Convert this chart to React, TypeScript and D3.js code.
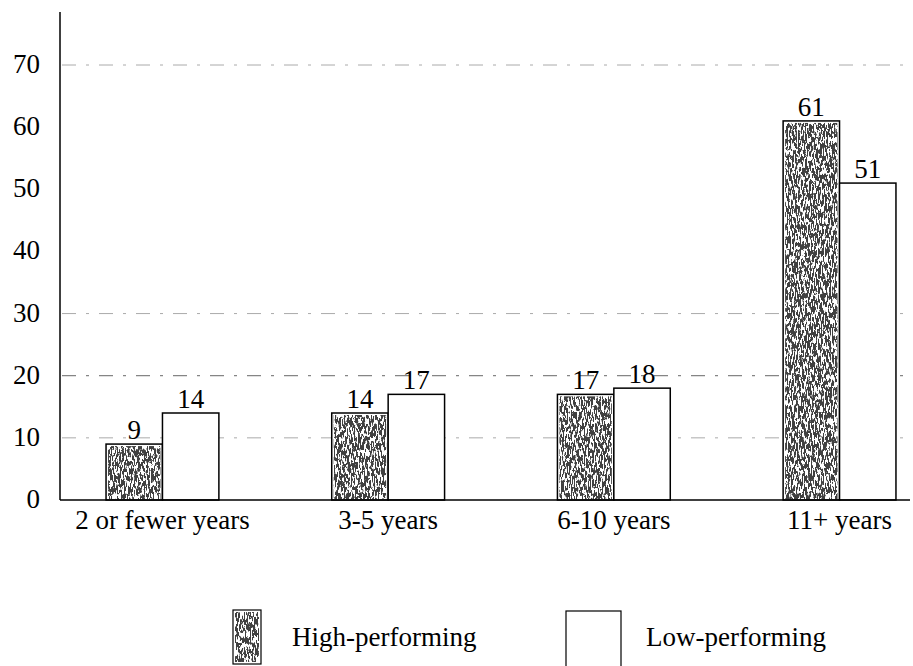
import * as d3 from 'd3';

const categories = ['2 or fewer years', '3-5 years', '6-10 years', '11+ years'];
const highPerforming = [9, 14, 17, 61];
const lowPerforming = [14, 17, 18, 51];
const series = ['High-performing', 'Low-performing'];
const yTicks = [0, 10, 20, 30, 40, 50, 60, 70];
const gridValues = [10, 20, 30, 70];

const width = 913;
const height = 666;
const font = '"Liberation Serif", "DejaVu Serif", serif';
const fs = 27;

export default function App() {
    const x = d3.scaleBand<string>().domain(categories).range([60, 942]).paddingInner(0.5).paddingOuter(0.204);
    const inner = d3.scaleBand<string>().domain(series).range([0, x.bandwidth()]);
    const y = d3.scaleLinear().domain([0, 70]).range([500, 65]);

    const values = [highPerforming, lowPerforming];

    return (
        <svg width={width} height={height} style={{ position: 'absolute', left: 0, top: 0, background: '#fff' }}>
            <defs>
                {/* speckled scan-like texture for high-performing bars */}
                <filter id="grain" x="0" y="0" width="100%" height="100%">
                    <feTurbulence type="fractalNoise" baseFrequency="0.7 0.16" numOctaves="3" seed="7" result="n" />
                    <feColorMatrix in="n" type="matrix" values="0 0 0 0 0.05  0 0 0 0 0.05  0 0 0 0 0.05  18 0 0 0 -8.2" result="a" />
                    <feComposite in="a" in2="SourceGraphic" operator="in" />
                </filter>
            </defs>

            {/* gridlines */}
            {gridValues.map((v) => (
                <line
                    key={v}
                    x1={62}
                    x2={908}
                    y1={y(v)}
                    y2={y(v)}
                    stroke={v === 20 ? '#666' : '#aaa'}
                    strokeWidth={1}
                    strokeDasharray="14 10 3 10"
                />
            ))}

            {/* y axis */}
            <line x1={60} x2={60} y1={12} y2={y(0)} stroke="#000" strokeWidth={1.5} />
            {yTicks.map((t) => (
                <text key={t} x={40} y={y(t) + 8} textAnchor="end" fontFamily={font} fontSize={fs}>
                    {t}
                </text>
            ))}

            {/* bars */}
            {categories.map((c, i) =>
                series.map((s, j) => {
                    const bx = x(c)! + inner(s)!;
                    const by = y(values[j][i]);
                    const bw = inner.bandwidth();
                    const bh = y(0) - by;
                    return (
                        <g key={c + s}>
                            <rect x={bx} y={by} width={bw} height={bh} fill="#fff" />
                            {j === 0 && <rect x={bx + 2} y={by + 2} width={bw - 4} height={bh - 3} fill="#000" filter="url(#grain)" />}
                            <rect x={bx} y={by} width={bw} height={bh} fill="none" stroke="#000" strokeWidth={1.5} />
                            <text x={bx + bw / 2} y={by - 5} textAnchor="middle" fontFamily={font} fontSize={fs}>
                                {values[j][i]}
                            </text>
                        </g>
                    );
                })
            )}

            {/* x axis */}
            <line x1={60} x2={910} y1={y(0)} y2={y(0)} stroke="#000" strokeWidth={1.5} />
            {categories.map((c) => (
                <text key={c} x={x(c)! + x.bandwidth() / 2} y={529} textAnchor="middle" fontFamily={font} fontSize={fs}>
                    {c}
                </text>
            ))}

            {/* legend */}
            <rect x={233} y={610} width={28} height={54} fill="#fff" />
            <rect x={235} y={612} width={24} height={50} fill="#000" filter="url(#grain)" />
            <rect x={233} y={610} width={28} height={54} fill="none" stroke="#000" strokeWidth={1.2} />
            <text x={292} y={646} fontFamily={font} fontSize={fs}>
                {series[0]}
            </text>
            <rect x={566} y={611} width={55} height={60} fill="#fff" stroke="#000" strokeWidth={1.2} />
            <text x={646} y={646} fontFamily={font} fontSize={fs}>
                {series[1]}
            </text>
        </svg>
    );
}
